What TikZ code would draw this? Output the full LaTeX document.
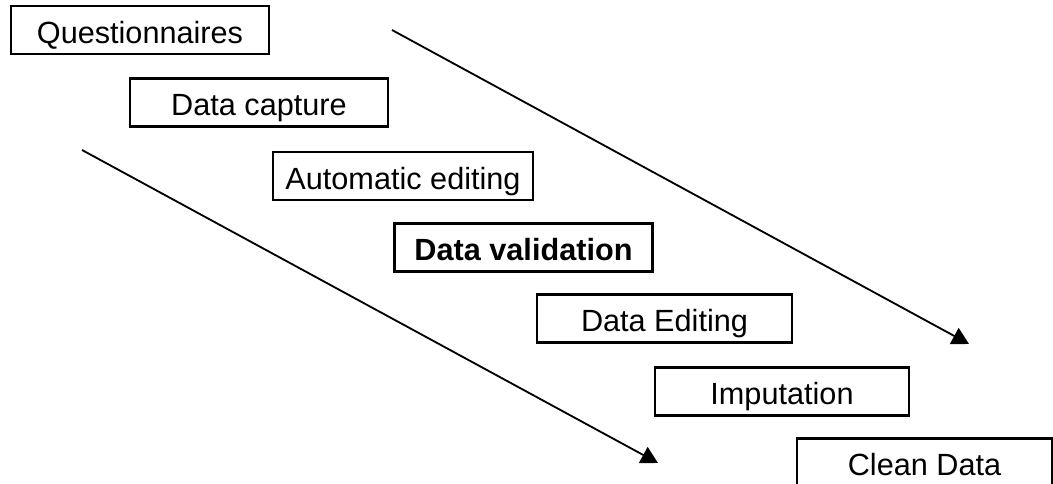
\documentclass[tikz,border=0pt]{standalone}
\usepackage{fontspec}
\setmainfont{Liberation Sans}
\usetikzlibrary{arrows.meta}

\tikzset{
  stage/.style={draw,line width=1.6pt,minimum width=6.45cm,minimum height=1.2cm,
    inner sep=0pt,text height=19.2pt,text depth=0pt,font=\fontsize{21.8}{24}\selectfont},
}

\begin{document}
\begin{tikzpicture}[x=0.025cm,y=-0.025cm,>={Triangle[length=0.42cm,width=0.45cm]}]
\useasboundingbox (0,0) rectangle (1053,484);
\clip (0,0) rectangle (1053,484);
% stages of the editing process
\node[stage] (quest) at (140,30) {Questionnaires};
\node[stage] (capture) at (259,102.5) {Data capture};
\node[stage,minimum width=6.5cm] (autoedit) at (403,176) {Automatic editing};
\node[stage,font=\fontsize{21.8}{24}\selectfont\bfseries] (valid) at (523.5,247.5) {Data validation};
\node[stage,minimum width=6.38cm] (editing) at (664.5,318.5) {Data Editing};
\node[stage,minimum width=6.35cm] (imput) at (782,391.5) {Imputation};
\node[stage,minimum width=6.38cm] (clean) at (924.5,462.5) {Clean Data};
% flow arrows
\coordinate (upstart) at (392,30);
\coordinate (upend) at (969,344);
\coordinate (lowstart) at (82,150);
\coordinate (lowend) at (658,463);
\draw[black,line width=1.3pt,->] (upstart) -- (upend);
\draw[black,line width=1.3pt,->] (lowstart) -- (lowend);
\end{tikzpicture}
\end{document}
